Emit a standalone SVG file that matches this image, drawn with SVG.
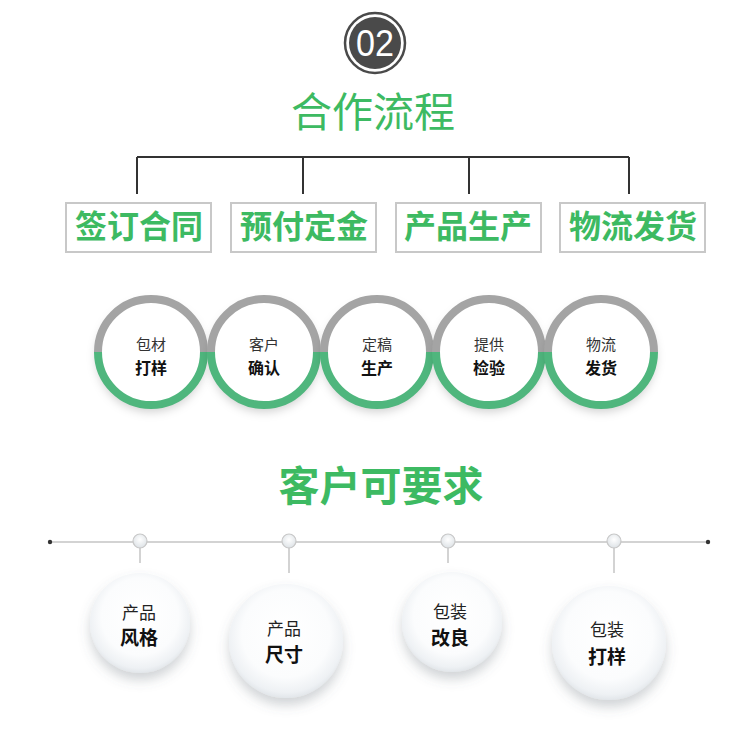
<svg xmlns="http://www.w3.org/2000/svg" width="750" height="742" viewBox="0 0 750 742">
<defs>
<style>
.cjk{font-family:"Noto Sans CJK SC","Noto Sans",sans-serif}
.title{font-size:41px;fill:#3dba62;text-anchor:middle}
.boxtxt{font-size:32px;font-weight:bold;fill:#3dba62;text-anchor:middle}
.box{fill:#fff;stroke:#c8c8c8;stroke-width:2}
.br{stroke:#333;stroke-width:2;fill:none}
.top{fill:none;stroke:#a4a4a4;stroke-width:8}
.bot{fill:none;stroke:#4fb67d;stroke-width:8}
.l1{font-size:15px;fill:#333;text-anchor:middle}
.l2{font-size:16px;font-weight:bold;fill:#111;text-anchor:middle}
.b1{font-size:17px;fill:#222;text-anchor:middle}
.b2{font-size:19px;font-weight:bold;fill:#111;text-anchor:middle}
.tl{stroke:#c4c4c4;stroke-width:1.5}
.node{fill:url(#ng);stroke:#c8c8c8;stroke-width:1.2}
</style>
<filter id="rs" x="-30%" y="-30%" width="160%" height="170%">
<feDropShadow dx="0" dy="5" stdDeviation="5" flood-color="#000" flood-opacity="0.18"/>
</filter>
<filter id="bs" x="-30%" y="-30%" width="160%" height="170%">
<feDropShadow dx="0" dy="7" stdDeviation="6" flood-color="#5a6470" flood-opacity="0.28"/>
</filter>
<radialGradient id="bg" cx="50%" cy="45%" r="55%" fx="50%" fy="40%">
<stop offset="0" stop-color="#ffffff"/>
<stop offset="0.7" stop-color="#fbfcfd"/>
<stop offset="0.92" stop-color="#eef1f4"/>
<stop offset="1" stop-color="#e2e6ea"/>
</radialGradient>
<radialGradient id="ng" cx="50%" cy="40%" r="60%">
<stop offset="0" stop-color="#ffffff"/>
<stop offset="1" stop-color="#dde2e6"/>
</radialGradient>
</defs>
<rect width="750" height="742" fill="#fff"/>

<g id="badge">
<circle cx="375" cy="43" r="30" fill="#fff" stroke="#4a4a4a" stroke-width="2.5"/>
<circle cx="375" cy="43" r="26" fill="#4a4a4a"/>
<text x="375" y="56" font-family="Liberation Sans, sans-serif" font-size="37" fill="#fff" text-anchor="middle" textLength="38" lengthAdjust="spacingAndGlyphs">02</text>
</g>

<g id="title1"><text class="cjk title" x="373" y="127">合作流程</text></g>

<g id="connectors">
<path class="br" d="M137 157 V194 M137 157 H629 M303 157 V194 M469 157 V194 M629 157 V194"/>
</g>

<g id="n-sign"><rect class="box" x="66" y="203" width="145" height="49"/><text class="cjk boxtxt" x="139" y="238">签订合同</text></g>
<g id="n-pay"><rect class="box" x="231" y="203" width="145" height="49"/><text class="cjk boxtxt" x="304" y="238">预付定金</text></g>
<g id="n-prod"><rect class="box" x="396" y="203" width="145" height="49"/><text class="cjk boxtxt" x="468" y="238">产品生产</text></g>
<g id="n-ship"><rect class="box" x="560" y="203" width="145" height="49"/><text class="cjk boxtxt" x="633" y="238">物流发货</text></g>

<g id="r1">
<circle cx="151" cy="352" r="55" fill="#fff" filter="url(#rs)"/>
<path class="top" d="M98 352 A53 53 0 0 1 204 352"/><path class="bot" d="M204 352 A53 53 0 0 1 98 352"/>
<text class="cjk l1" x="151" y="350">包材</text><text class="cjk l2" x="151" y="374">打样</text>
</g>
<g id="r2">
<circle cx="264" cy="352" r="55" fill="#fff" filter="url(#rs)"/>
<path class="top" d="M211 352 A53 53 0 0 1 317 352"/><path class="bot" d="M317 352 A53 53 0 0 1 211 352"/>
<text class="cjk l1" x="264" y="350">客户</text><text class="cjk l2" x="264" y="374">确认</text>
</g>
<g id="r3">
<circle cx="377" cy="352" r="55" fill="#fff" filter="url(#rs)"/>
<path class="top" d="M324 352 A53 53 0 0 1 430 352"/><path class="bot" d="M430 352 A53 53 0 0 1 324 352"/>
<text class="cjk l1" x="377" y="350">定稿</text><text class="cjk l2" x="377" y="374">生产</text>
</g>
<g id="r4">
<circle cx="489" cy="352" r="55" fill="#fff" filter="url(#rs)"/>
<path class="top" d="M436 352 A53 53 0 0 1 542 352"/><path class="bot" d="M542 352 A53 53 0 0 1 436 352"/>
<text class="cjk l1" x="489" y="350">提供</text><text class="cjk l2" x="489" y="374">检验</text>
</g>
<g id="r5">
<circle cx="601" cy="352" r="55" fill="#fff" filter="url(#rs)"/>
<path class="top" d="M548 352 A53 53 0 0 1 654 352"/><path class="bot" d="M654 352 A53 53 0 0 1 548 352"/>
<text class="cjk l1" x="601" y="350">物流</text><text class="cjk l2" x="601" y="374">发货</text>
</g>

<g id="title2"><text class="cjk title" x="381" y="501" font-weight="bold">客户可要求</text></g>

<g id="timeline">
<line class="tl" x1="50" y1="542" x2="708" y2="542"/>
<circle cx="50" cy="542" r="2.2" fill="#333"/>
<circle cx="708" cy="542" r="2.2" fill="#333"/>
<line class="tl" x1="140" y1="542" x2="140" y2="563"/>
<line class="tl" x1="289" y1="542" x2="289" y2="573"/>
<line class="tl" x1="448" y1="542" x2="448" y2="563"/>
<line class="tl" x1="614" y1="542" x2="614" y2="573"/>
<circle class="node" cx="140" cy="541" r="7"/>
<circle class="node" cx="289" cy="541" r="7"/>
<circle class="node" cx="448" cy="541" r="7"/>
<circle class="node" cx="614" cy="541" r="7"/>
</g>

<g id="b1">
<circle cx="140" cy="623" r="50" fill="url(#bg)" filter="url(#bs)"/>
<text class="cjk b1" x="139" y="619">产品</text><text class="cjk b2" x="139" y="645">风格</text>
</g>
<g id="b2">
<circle cx="286" cy="641" r="57" fill="url(#bg)" filter="url(#bs)"/>
<text class="cjk b1" x="284" y="635">产品</text><text class="cjk b2" x="284" y="662">尺寸</text>
</g>
<g id="b3">
<circle cx="452" cy="622" r="50" fill="url(#bg)" filter="url(#bs)"/>
<text class="cjk b1" x="450" y="618">包装</text><text class="cjk b2" x="450" y="645">改良</text>
</g>
<g id="b4">
<circle cx="609" cy="643" r="57" fill="url(#bg)" filter="url(#bs)"/>
<text class="cjk b1" x="607" y="636">包装</text><text class="cjk b2" x="607" y="664">打样</text>
</g>
</svg>
